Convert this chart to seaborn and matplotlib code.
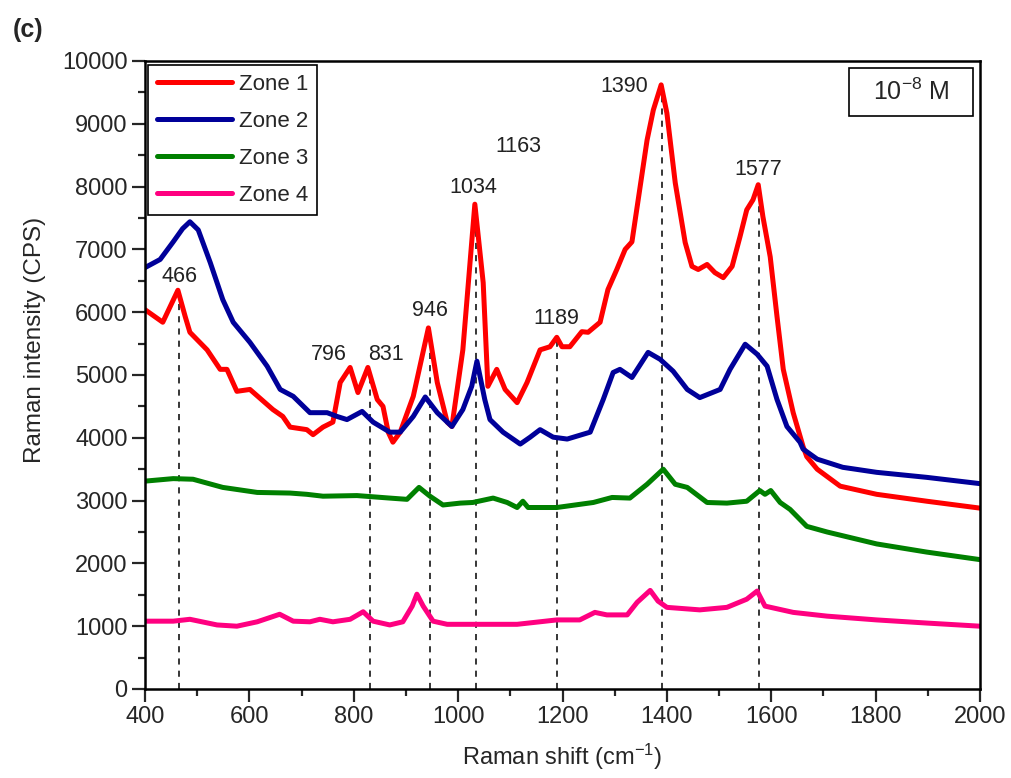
import matplotlib
matplotlib.use("Agg")
import matplotlib.pyplot as plt
from matplotlib.patches import Rectangle
from matplotlib.ticker import MultipleLocator
import seaborn as sns

# Raman shift (cm-1) / intensity (CPS)
zone1_x = [400, 434, 463, 477, 486, 519, 544, 557, 576, 601, 645, 664, 678, 710, 722, 741, 760,
           774, 793, 808, 827, 845, 856, 866, 875, 889, 914, 943, 960, 979, 988, 1009, 1032,
           1048, 1057, 1074, 1090, 1113, 1132, 1157, 1176, 1189, 1199, 1214, 1237, 1249, 1272,
           1287, 1304, 1320, 1333, 1345, 1362, 1374, 1389, 1400, 1416, 1435, 1448, 1460, 1477,
           1492, 1508, 1525, 1540, 1553, 1565, 1575, 1584, 1598, 1611, 1623, 1642, 1661, 1668,
           1688, 1732, 1802, 1898, 2000]
zone1_y = [6040, 5840, 6350, 5930, 5680, 5400, 5090, 5090, 4740, 4770, 4450, 4340, 4170, 4130,
           4050, 4170, 4250, 4880, 5120, 4720, 5120, 4610, 4500, 4090, 3930, 4090, 4660, 5750,
           4880, 4250, 4180, 5400, 7720, 6470, 4820, 5090, 4770, 4560, 4880, 5400, 5450, 5600,
           5450, 5450, 5690, 5680, 5840, 6360, 6680, 7000, 7120, 7790, 8740, 9220, 9620, 9170,
           8060, 7110, 6730, 6680, 6760, 6630, 6550, 6730, 7200, 7630, 7790, 8030, 7520, 6880,
           5930, 5090, 4400, 3860, 3700, 3500, 3230, 3100, 2990, 2880]

zone2_x = [400, 429, 454, 472, 486, 502, 525, 549, 569, 601, 634, 659, 684, 716, 749, 768, 787,
           816, 837, 869, 889, 914, 937, 960, 988, 1009, 1026, 1036, 1051, 1061, 1086, 1119,
           1138, 1157, 1182, 1209, 1253, 1278, 1297, 1310, 1333, 1364, 1387, 1412, 1439, 1463,
           1502, 1521, 1550, 1573, 1592, 1611, 1630, 1655, 1661, 1688, 1737, 1802, 1898, 2000]
zone2_y = [6710, 6840, 7120, 7330, 7440, 7310, 6790, 6200, 5840, 5520, 5140, 4770, 4660, 4400,
           4400, 4340, 4290, 4420, 4250, 4090, 4090, 4340, 4650, 4400, 4180, 4450, 4820, 5220,
           4610, 4290, 4090, 3900, 4010, 4130, 4010, 3980, 4090, 4610, 5040, 5090, 4960, 5360,
           5250, 5060, 4770, 4640, 4770, 5090, 5490, 5330, 5140, 4610, 4180, 3930, 3820, 3660,
           3530, 3450, 3370, 3270]

zone3_x = [400, 454, 492, 549, 615, 678, 710, 741, 806, 869, 902, 925, 946, 971, 1004, 1028,
           1067, 1094, 1113, 1124, 1134, 1189, 1259, 1295, 1329, 1362, 1393, 1416, 1439, 1477,
           1515, 1553, 1578, 1588, 1599, 1617, 1636, 1668, 1707, 1802, 1898, 2000]
zone3_y = [3310, 3350, 3340, 3210, 3130, 3120, 3100, 3070, 3080, 3040, 3020, 3210, 3070, 2930,
           2960, 2970, 3040, 2970, 2890, 2990, 2890, 2890, 2970, 3050, 3040, 3260, 3500, 3260,
           3210, 2970, 2960, 2990, 3160, 3100, 3160, 2970, 2860, 2590, 2500, 2310, 2180, 2060]

zone4_x = [400, 454, 486, 538, 576, 615, 658, 684, 716, 735, 760, 793, 818, 837, 869, 894, 912,
           921, 933, 952, 979, 1028, 1113, 1189, 1233, 1262, 1285, 1324, 1343, 1368, 1383, 1400,
           1463, 1515, 1553, 1573, 1588, 1642, 1707, 1802, 1898, 2000]
zone4_y = [1080, 1080, 1110, 1020, 1000, 1070, 1190, 1080, 1070, 1110, 1070, 1110, 1230, 1080,
           1020, 1070, 1320, 1510, 1320, 1080, 1030, 1030, 1030, 1100, 1100, 1220, 1180, 1180,
           1380, 1570, 1400, 1300, 1260, 1300, 1430, 1560, 1320, 1220, 1160, 1100, 1050, 1000]

zones = ["Zone 1", "Zone 2", "Zone 3", "Zone 4"]
colors = ["#ff0000", "#000099", "#008000", "#ff0080"]

# peak assignments marked with dashed lines (position, red-curve height)
marked_peaks = [466, 831, 946, 1034, 1189, 1390, 1577]
marked_tops = [6300, 5100, 5700, 7650, 5580, 9580, 7980]

# peak labels and where they sit
peak_labels = ["466", "796", "831", "946", "1034", "1163", "1189", "1390", "1577"]
label_x = [467, 752, 861, 946, 1030, 1116, 1189, 1318, 1575]
label_y = [6570, 5330, 5330, 6020, 7980, 8640, 5900, 9600, 8280]

sns.set_style("ticks")
plt.rcParams["font.family"] = ["Liberation Sans", "DejaVu Sans"]
plt.rcParams["mathtext.default"] = "regular"

fig = plt.figure(figsize=(10.12, 7.78), dpi=100)
ax = fig.add_axes([0.1433, 0.1144, 0.8251, 0.8072])

for xs, ys, name, c in zip([zone1_x, zone2_x, zone3_x, zone4_x],
                           [zone1_y, zone2_y, zone3_y, zone4_y], zones, colors):
    sns.lineplot(x=xs, y=ys, color=c, lw=3.6, label=name, ax=ax, sort=False)

# dashed markers from the baseline up to the peak
for px, top in zip(marked_peaks, marked_tops):
    ax.plot([px, px], [0, top], color="black", lw=1.1, ls=(0, (4, 4)), zorder=1)

for t, tx, ty in zip(peak_labels, label_x, label_y):
    ax.text(tx, ty, t, ha="center", va="center", fontsize=15.5, color="#222222")

ax.set_xlim(400, 2000)
ax.set_ylim(0, 10000)
ax.xaxis.set_major_locator(MultipleLocator(200))
ax.xaxis.set_minor_locator(MultipleLocator(100))
ax.yaxis.set_major_locator(MultipleLocator(1000))
ax.yaxis.set_minor_locator(MultipleLocator(500))
ax.tick_params(which="major", length=9.5, width=1.6, labelsize=17, direction="out", pad=3)
ax.tick_params(which="minor", length=5, width=1.6, direction="out")
for s in ax.spines.values():
    s.set_linewidth(1.8)
    s.set_color("black")

ax.set_xlabel("Raman shift (cm$^{-1}$)", fontsize=17, labelpad=10)
ax.set_ylabel("Raman intensity (CPS)", fontsize=17.5)
ax.yaxis.set_label_coords(-0.118, 0.556)

leg = ax.legend(loc="upper left", bbox_to_anchor=(0.0036, 0.9936), fontsize=16,
                handlelength=3.4, handletextpad=0.3, labelspacing=0.72,
                borderpad=0.4, borderaxespad=0.0, fancybox=False, framealpha=1)
leg.get_frame().set_edgecolor("black")
leg.get_frame().set_linewidth(1.2)

# concentration tag in the upper right corner
ax.add_patch(Rectangle((0.8431, 0.9124), 0.1485, 0.0765, transform=ax.transAxes,
                       facecolor="white", edgecolor="black", lw=1.2, zorder=5))
ax.text(0.9174, 0.9506, "10$^{-8}$ M", transform=ax.transAxes, ha="center", va="center",
        fontsize=18, zorder=6)

fig.text(0.0128, 0.9614, "(c)", fontsize=18, fontweight="bold", ha="left", va="center")

fig.savefig("out.png", dpi=100)
